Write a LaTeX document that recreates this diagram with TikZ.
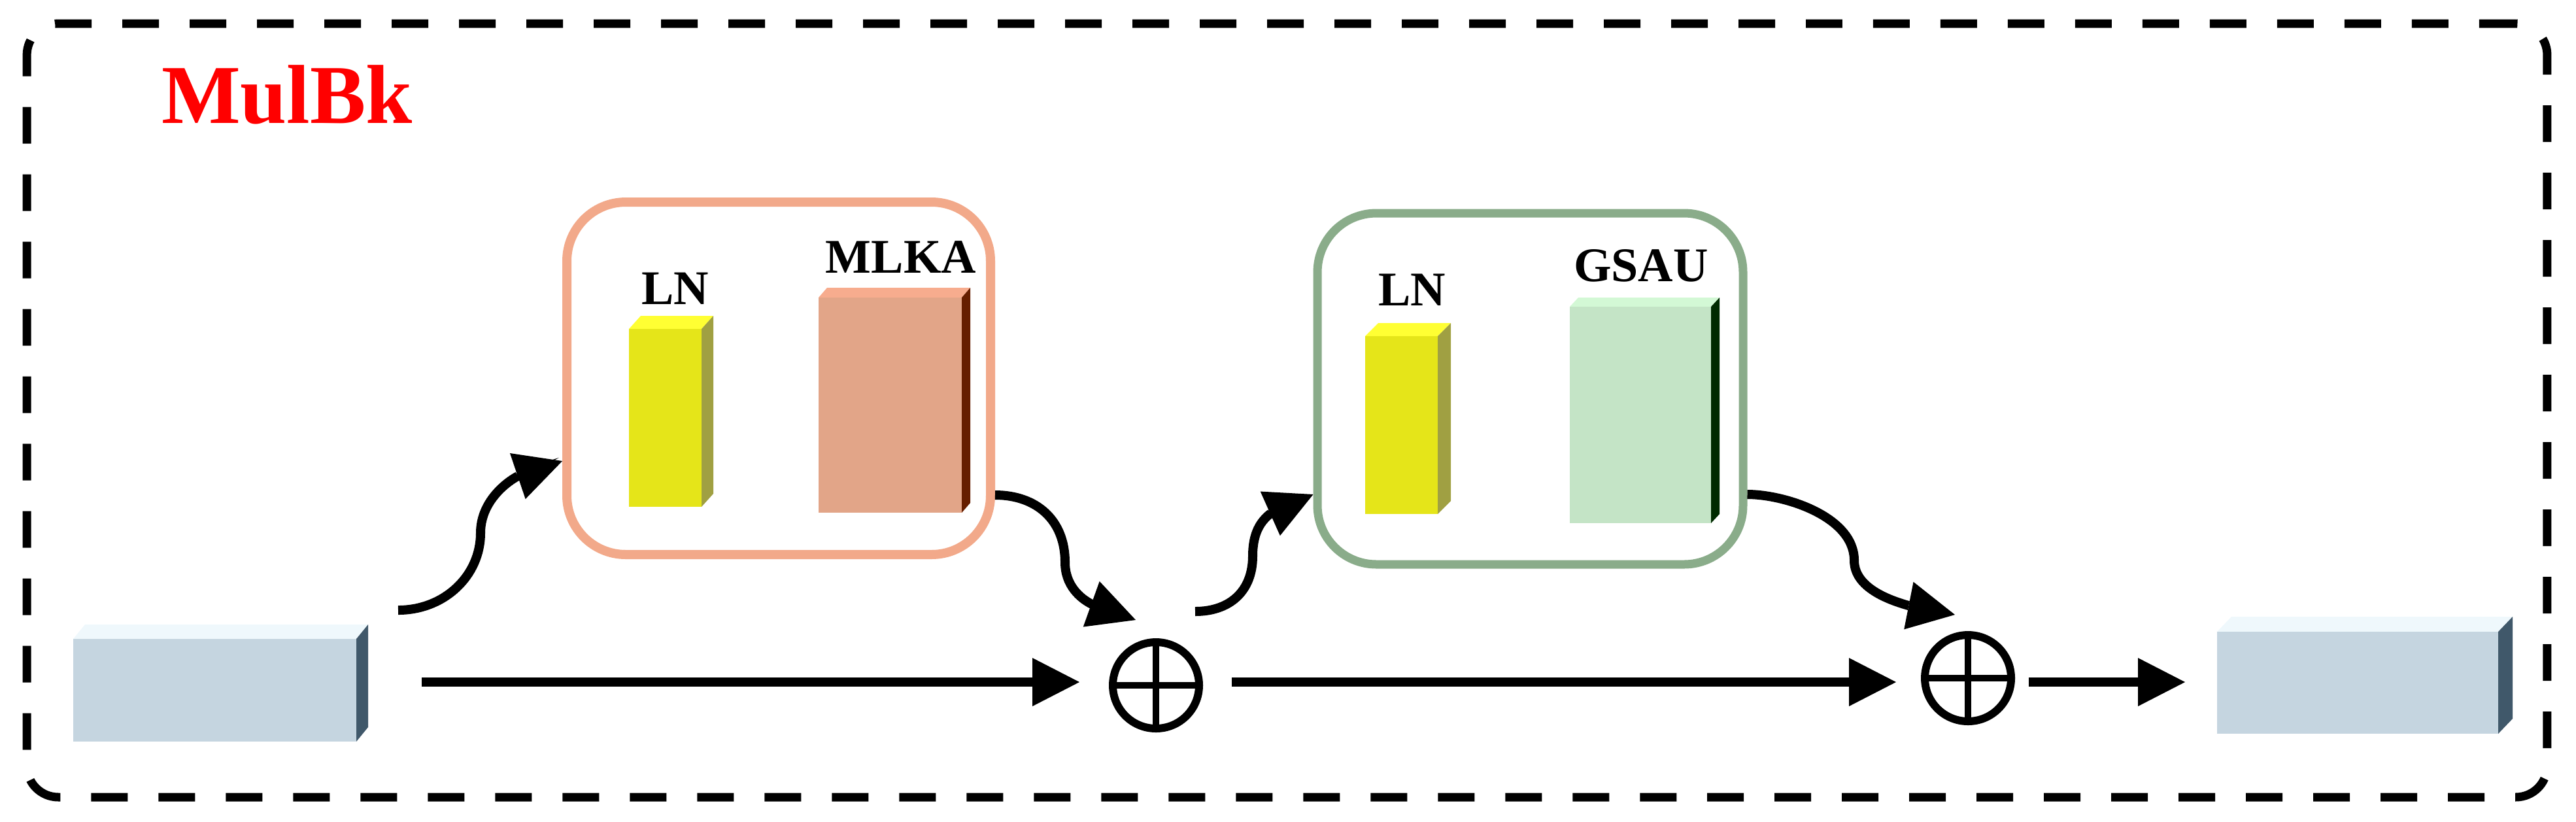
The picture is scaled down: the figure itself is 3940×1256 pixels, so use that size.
\documentclass[tikz,border=0pt]{standalone}
\usepackage{fontspec}
\setmainfont{Liberation Serif}
\usetikzlibrary{arrows.meta,calc,fit}
\definecolor{pinkB}{HTML}{F2A98A}
\definecolor{greenB}{HTML}{8AAC8A}
\definecolor{bluF}{HTML}{C5D5E0}
\definecolor{bluT}{HTML}{EFF8FC}
\definecolor{bluS}{HTML}{40586A}
\definecolor{ylwF}{HTML}{E5E519}
\definecolor{ylwT}{HTML}{FFFF33}
\definecolor{ylwS}{HTML}{A0A042}
\definecolor{salF}{HTML}{E2A588}
\definecolor{salT}{HTML}{F7AC8E}
\definecolor{salS}{HTML}{661E00}
\definecolor{grnF}{HTML}{C4E4C6}
\definecolor{grnT}{HTML}{D3F8D5}
\definecolor{grnS}{HTML}{002A00}
\newcommand\mycuboid[8]{%
  \fill[#8T] (#2,#3) -- ({#2+#6},{#3+#7}) -- ({#4+#6},{#3+#7}) -- (#4,#3) -- cycle;
  \fill[#8S] (#4,#3) -- ({#4+#6},{#3+#7}) -- ({#4+#6},{#5+#7}) -- (#4,#5) -- cycle;
  \coordinate (#1-nw) at (#2,#3);
  \coordinate (#1-se) at (#4,#5);
  \node[fill=#8F, inner sep=0pt, outer sep=0pt, fit=(#1-nw)(#1-se)] (#1) {};
}
\begin{document}
\begin{tikzpicture}[x=0.1pt,y=-0.1pt,
  arr/.style={line width=1.4pt,-{Triangle[length=7.2pt,width=7.4pt,line width=0pt]}},
  grp/.style={draw, rounded corners=9pt, inner sep=0pt},
  plus/.style={circle, draw, line width=1.2pt, minimum size=13.2pt, inner sep=0pt},
  lbl/.style={anchor=base, font=\bfseries\fontsize{7.4pt}{8pt}\selectfont},
]
\useasboundingbox (0,0) rectangle (3940,1256);
% outer dashed frame
\node[draw, line width=1.3pt, dash pattern=on 5.6pt off 4.7pt, rounded corners=4.8pt,
      inner sep=0pt, outer sep=0pt, minimum width=385.5pt, minimum height=118.3pt] (frame) at (1968.5,627.5) {};
\node[anchor=base west, inner sep=0pt, text=red, font=\bfseries\fontsize{12.8pt}{14pt}\selectfont] (title) at (245,188) {MulBk};

% groups
\node[grp, draw=pinkB, line width=1.4pt, minimum width=64.8pt, minimum height=53.9pt] (grpA) at (1191,578.5) {};
\node[grp, draw=greenB, line width=1.3pt, minimum width=65.1pt, minimum height=53.7pt] (grpB) at (2340.5,594.5) {};

% blocks
\mycuboid{inblk}{112}{977}{545}{1134}{18}{-22}{blu}
\mycuboid{outblk}{3391}{966}{3821}{1122}{22}{-23}{blu}
\mycuboid{lnAbar}{962}{503}{1073}{775}{18}{-20}{ylw}
\mycuboid{mlkabar}{1252}{455}{1471}{784}{13}{-15}{sal}
\mycuboid{lnBbar}{2088}{514}{2199}{786}{20}{-20}{ylw}
\mycuboid{gsaubar}{2401}{469}{2617}{800}{13}{-14}{grn}

% labels
\node[lbl] (lnA) at (1033,465) {LN};
\node[lbl] (mlkaL) at (1378,417) {MLKA};
\node[lbl] (lnB) at (2160,467) {LN};
\node[lbl] (gsauL) at (2510,430) {GSAU};

% adders
\node[plus] (p1) at (1768,1048) {};
\node[plus] (p2) at (3010,1037) {};
\foreach \p in {p1,p2}
  \draw[line width=1pt] ([yshift=6.6pt]\p.center) -- ([yshift=-6.6pt]\p.center)
                        ([xshift=-6.6pt]\p.center) -- ([xshift=6.6pt]\p.center);

% free ends and arrow-base points
\coordinate (s0) at (645,1043);
\coordinate (c1s) at (609,933);
\coordinate (c2b) at (1670,924);
\coordinate (c2e) at (1737,948);
\coordinate (c3s) at (1828,935);
\coordinate (c4b) at (2919,926);
\coordinate (c4e) at (2990,940);

% straight arrows
\draw[arr, shorten >=4.5pt] (s0) -- (s0 -| p1.west);
\draw[arr, shorten <=4.4pt, shorten >=3.8pt] (p1.east |- s0) -- (p2.west |- s0);
\draw[arr, shorten <=2.1pt, shorten >=4.9pt] (p2.east |- s0) -- (outblk.west |- s0);

% curved arrows
\draw[arr] (c1s) .. controls (680,933) and (735,880) .. (735,815)
                 .. controls (735,770) and (770,740) .. ([xshift=-6.8pt,yshift=-14.95pt]grpA.west)
                 -- ([yshift=-12.65pt]grpA.west);
\draw[arr] ([yshift=-17.85pt]grpA.east) .. controls (1585,757) and (1629,795) .. (1629,860)
                 .. controls (1629,895) and (1652,915) .. (c2b) -- (c2e);
\draw[arr] (c3s) .. controls (1880,935) and (1916,905) .. (1916,850)
                 .. controls (1916,815) and (1928,797) .. ([xshift=-6.5pt,yshift=-19.05pt]grpB.west)
                 -- ([yshift=-16.15pt]grpB.west);
\draw[arr] ([yshift=-16.15pt]grpB.east) .. controls (2730,756) and (2836,790) .. (2836,857)
                 .. controls (2836,895) and (2880,915) .. (c4b) -- (c4e);
\end{tikzpicture}
\end{document}
